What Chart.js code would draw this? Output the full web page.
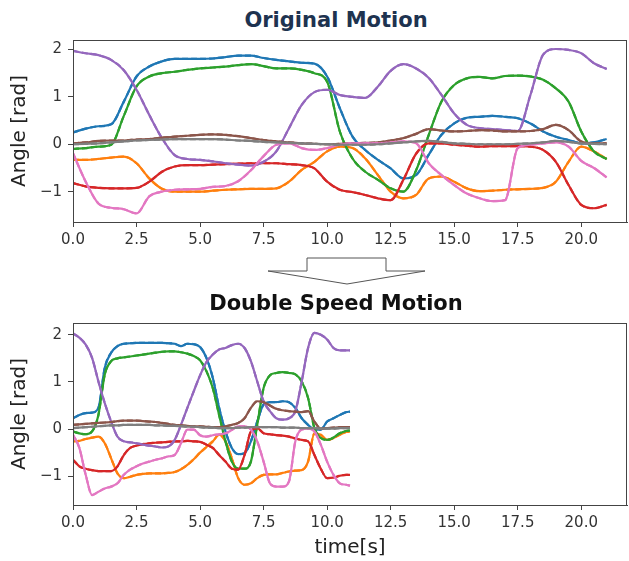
<!DOCTYPE html>
<html>
<head>
<meta charset="utf-8">
<script src="https://cdn.jsdelivr.net/npm/chart.js@4.4.0/dist/chart.umd.min.js"></script>
<style>
  body { margin: 0; background: #fff; width: 629px; height: 561px; position: relative; overflow: hidden; font-family: "DejaVu Sans", sans-serif; }
  .box { position: absolute; left: 0; width: 629px; }
  .title { position: absolute; left: 0; width: 672px; text-align: center; font-weight: bold; font-size: 21px; line-height: 24px; }
  svg { position: absolute; left: 0; top: 0; }
</style>
</head>
<body>
<div class="title" style="top:8px;color:#1e3350">Original Motion</div>
<div class="box" style="top:0;height:260px"><canvas id="origChart"></canvas></div>
<svg width="629" height="561">
  <polygon points="307,258 386,258 386,271 425,271 347,284 268,271 307,271" fill="#fff" stroke="#555" stroke-width="1"/>
</svg>
<div class="title" style="top:291px;color:#111">Double Speed Motion</div>
<div class="box" style="top:280px;height:281px"><canvas id="fastChart"></canvas></div>
<script>
// original motion, sampled every 0.5 s
const origTime = [0,0.5,1,1.5,2,2.5,3,3.5,4,4.5,5,5.5,6,6.5,7,7.5,8,8.5,9,9.5,10,10.5,11,11.5,12,12.5,13,13.5,14,14.5,15,15.5,16,16.5,17,17.5,18,18.5,19,19.5,20,20.5,21];
const origBlue = [0.25,0.33,0.38,0.42,0.9,1.43,1.64,1.75,1.8,1.8,1.8,1.81,1.84,1.87,1.87,1.82,1.78,1.75,1.72,1.7,1.43,0.76,0.16,-0.12,-0.33,-0.51,-0.72,-0.65,-0.22,0.2,0.44,0.56,0.58,0.6,0.58,0.55,0.44,0.27,0.16,0.09,0.02,0.04,0.11];
const origOrange = [-0.33,-0.33,-0.31,-0.28,-0.26,-0.4,-0.72,-0.94,-1.0,-1.0,-1.0,-0.98,-0.96,-0.95,-0.94,-0.94,-0.93,-0.79,-0.54,-0.37,-0.15,-0.05,-0.08,-0.3,-0.65,-1.0,-1.14,-1.07,-0.72,-0.68,-0.79,-0.93,-0.99,-0.98,-0.96,-0.95,-0.94,-0.92,-0.79,-0.37,-0.05,-0.15,-0.31];
const origGreen = [-0.1,-0.08,-0.05,-0.01,0.6,1.22,1.43,1.5,1.53,1.57,1.6,1.62,1.64,1.67,1.69,1.65,1.6,1.6,1.57,1.5,1.32,0.27,-0.3,-0.58,-0.75,-0.93,-1.0,-0.55,0.2,0.9,1.25,1.39,1.42,1.39,1.44,1.45,1.43,1.36,1.18,0.9,0.27,-0.15,-0.31];
const origRed = [-0.82,-0.89,-0.92,-0.93,-0.93,-0.92,-0.79,-0.58,-0.47,-0.44,-0.44,-0.43,-0.42,-0.41,-0.4,-0.4,-0.4,-0.42,-0.44,-0.51,-0.79,-0.96,-1.01,-1.07,-1.14,-1.18,-0.75,-0.2,0.02,0.02,-0.01,-0.03,-0.05,-0.04,-0.04,-0.04,-0.05,-0.12,-0.37,-0.86,-1.28,-1.35,-1.28];
const origPurple = [1.97,1.92,1.88,1.78,1.56,1.15,0.62,0.13,-0.23,-0.31,-0.33,-0.36,-0.4,-0.43,-0.45,-0.37,-0.15,0.34,0.83,1.1,1.15,1.04,1.0,0.98,1.22,1.55,1.69,1.6,1.4,1.04,0.65,0.41,0.34,0.32,0.3,0.28,1.04,1.89,2.01,1.99,1.92,1.71,1.59];
const origBrown = [0.02,0.04,0.07,0.08,0.08,0.1,0.11,0.14,0.16,0.18,0.2,0.21,0.2,0.17,0.13,0.09,0.06,0.04,0.02,0.01,0,0.01,0.02,0.03,0.04,0.08,0.13,0.22,0.32,0.29,0.27,0.28,0.3,0.29,0.27,0.27,0.28,0.32,0.41,0.3,0.06,0.02,0.02];
const origPink = [-0.19,-0.79,-1.25,-1.34,-1.37,-1.46,-1.1,-1.0,-0.96,-0.95,-0.94,-0.9,-0.88,-0.78,-0.55,-0.25,-0.01,0.02,-0.08,-0.12,-0.08,-0.01,0.02,0.02,0.02,0.04,0.06,0.02,-0.4,-0.65,-0.86,-1.04,-1.14,-1.2,-1.18,-0.08,-0.01,0.02,0.04,-0.05,-0.35,-0.5,-0.7];
const origGray = [0,0.01,0.02,0.04,0.06,0.08,0.09,0.1,0.11,0.11,0.11,0.11,0.1,0.08,0.07,0.05,0.04,0.03,0.02,0.01,0,-0.01,-0.01,-0.01,0,0.02,0.04,0.06,0.07,0.05,0.02,0.01,0,0,0,0.01,0.02,0.04,0.07,0.05,0.02,0.01,0];

// double speed motion, sampled every 0.25 s
const fastTime = [0,0.25,0.5,0.75,1,1.25,1.5,1.75,2,2.25,2.5,2.75,3,3.25,3.5,3.75,4,4.25,4.5,4.75,5,5.25,5.5,5.75,6,6.25,6.5,6.75,7,7.25,7.5,7.75,8,8.25,8.5,8.75,9,9.25,9.5,9.75,10,10.25,10.5,10.75,10.9];
const fastBlue = [0.23,0.3,0.34,0.35,0.45,1.3,1.62,1.76,1.81,1.82,1.83,1.83,1.83,1.83,1.83,1.82,1.81,1.76,1.81,1.8,1.74,1.51,1.09,0.45,-0.05,-0.4,-0.53,-0.51,-0.26,0.16,0.52,0.57,0.57,0.59,0.57,0.45,0.23,0.09,-0.01,-0.01,0.16,0.23,0.3,0.36,0.37];
const fastOrange = [-0.26,-0.25,-0.21,-0.18,-0.16,-0.3,-0.62,-0.94,-1.04,-1.01,-0.97,-0.95,-0.94,-0.94,-0.94,-0.93,-0.91,-0.85,-0.76,-0.64,-0.5,-0.38,-0.26,-0.12,-0.26,-0.62,-1.04,-1.18,-1.15,-1.04,-0.97,-0.96,-0.96,-0.93,-0.9,-0.88,-0.87,-0.69,-0.09,-0.12,-0.23,-0.19,-0.12,-0.06,-0.05];
const fastGreen = [-0.05,-0.09,-0.11,-0.05,0.3,1.16,1.44,1.5,1.52,1.54,1.56,1.58,1.6,1.62,1.64,1.65,1.65,1.63,1.6,1.55,1.46,1.23,0.87,0.3,-0.26,-0.69,-0.84,-0.84,-0.69,0.09,0.87,1.14,1.19,1.21,1.19,1.16,1.01,0.66,0.02,-0.19,-0.23,-0.18,-0.09,-0.04,-0.03];
const fastRed = [-0.65,-0.79,-0.84,-0.87,-0.89,-0.89,-0.89,-0.79,-0.55,-0.4,-0.35,-0.32,-0.3,-0.29,-0.28,-0.27,-0.26,-0.26,-0.25,-0.26,-0.27,-0.33,-0.4,-0.55,-0.69,-0.84,-0.86,-0.55,-0.05,0.02,-0.09,-0.11,-0.13,-0.14,-0.16,-0.2,-0.23,-0.26,-0.55,-0.84,-1.04,-1.03,-0.99,-0.97,-0.97];
const fastPurple = [2.03,1.94,1.79,1.51,1.01,0.55,0.16,-0.16,-0.26,-0.28,-0.3,-0.33,-0.35,-0.37,-0.39,-0.37,-0.23,0.09,0.45,0.8,1.14,1.42,1.58,1.69,1.72,1.78,1.81,1.72,1.44,1.01,0.59,0.38,0.23,0.2,0.23,0.38,1.01,1.72,2.04,2.0,1.9,1.72,1.67,1.67,1.67];
const fastBrown = [0.09,0.1,0.11,0.12,0.13,0.14,0.15,0.17,0.18,0.18,0.18,0.17,0.16,0.15,0.13,0.11,0.09,0.08,0.07,0.06,0.06,0.05,0.04,0.04,0.06,0.09,0.13,0.23,0.45,0.59,0.57,0.5,0.43,0.4,0.38,0.37,0.36,0.38,0.16,0.01,0.02,0.03,0.04,0.04,0.04];
const fastPink = [-0.12,-0.4,-0.97,-1.4,-1.33,-1.26,-1.22,-1.15,-0.97,-0.86,-0.79,-0.73,-0.69,-0.65,-0.62,-0.58,-0.55,-0.3,-0.01,-0.01,-0.13,-0.16,-0.13,-0.11,-0.09,-0.02,0.06,0.06,-0.01,-0.26,-0.69,-1.15,-1.22,-1.22,-1.11,-0.26,-0.01,0.01,-0.05,-0.33,-0.69,-0.97,-1.15,-1.18,-1.2];
const fastGray = [0.02,0.03,0.04,0.05,0.06,0.07,0.08,0.08,0.09,0.09,0.09,0.09,0.09,0.08,0.08,0.07,0.07,0.06,0.05,0.05,0.04,0.03,0.03,0.02,0.02,0.02,0.03,0.03,0.04,0.04,0.04,0.04,0.04,0.03,0.03,0.03,0.02,0.02,0.02,0.01,0.01,0.01,0.02,0.02,0.02];

const colors = ['#1f77b4', '#ff7f0e', '#2ca02c', '#d62728', '#9467bd', '#8c564b', '#e377c2', '#7f7f7f'];
const xTicks = [0, 2.5, 5, 7.5, 10, 12.5, 15, 17.5, 20];
const yTicks = [-1, 0, 1, 2];

function makeSets(time, series) {
  const sets = [];
  series.forEach((vals, i) => {
    const pts = vals.map((v, k) => ({ x: time[k], y: v }));
    // solid = reference, dashed = tracked motion
    sets.push({ data: pts, borderColor: colors[i], borderWidth: 2.2, order: -2 * i });
    sets.push({ data: pts, borderColor: colors[i], borderWidth: 2.2, borderDash: [6, 3], order: -2 * i - 1 });
  });
  return sets;
}

const frame = {
  id: 'frame',
  afterDatasetsDraw(chart) {
    const a = chart.chartArea, c = chart.ctx;
    c.save();
    c.strokeStyle = '#444';
    c.lineWidth = 1;
    c.strokeRect(Math.round(a.left) + 0.5, Math.round(a.top) + 0.5, Math.round(a.right - a.left) - 1, Math.round(a.bottom - a.top));
    c.restore();
  }
};

function makeOptions(yMin, yMax, padTop, xHeight, xTitle) {
  const tickFont = { family: 'DejaVu Sans', size: 15 };
  return {
    responsive: true,
    maintainAspectRatio: false,
    animation: false,
    layout: { padding: { top: padTop, right: 2, left: 0, bottom: 0 } },
    elements: { point: { radius: 0 }, line: { cubicInterpolationMode: 'monotone', fill: false } },
    plugins: { legend: { display: false }, tooltip: { enabled: false } },
    scales: {
      x: {
        type: 'linear', min: 0, max: 21.8,
        afterBuildTicks: s => { s.ticks = xTicks.map(v => ({ value: v })); },
        afterFit: s => { s.height = xHeight; },
        ticks: { font: tickFont, color: '#333', padding: 4, maxRotation: 0, autoSkip: false, callback: v => v.toFixed(1) },
        grid: { drawOnChartArea: false, tickLength: 5, color: '#444' },
        border: { color: '#444' },
        title: { display: !!xTitle, text: xTitle, font: { family: 'DejaVu Sans', size: 20 }, color: '#222', padding: { top: 0, bottom: 1 } }
      },
      y: {
        min: yMin, max: yMax,
        afterBuildTicks: s => { s.ticks = yTicks.map(v => ({ value: v })); },
        afterFit: s => { s.width = 73; },
        ticks: { font: tickFont, color: '#333', padding: 6, callback: v => v < 0 ? '\u2212' + Math.abs(v) : String(v) },
        grid: { drawOnChartArea: false, tickLength: 5, color: '#444' },
        border: { color: '#444' },
        title: { display: true, text: 'Angle [rad]', font: { family: 'DejaVu Sans', size: 20 }, color: '#222', padding: { top: 8, bottom: 0 } }
      }
    }
  };
}

new Chart(document.getElementById('origChart'), {
  type: 'line',
  data: { datasets: makeSets(origTime, [origBlue, origOrange, origGreen, origRed, origPurple, origBrown, origPink, origGray]) },
  options: makeOptions(-1.64, 2.2, 40, 38, ''),
  plugins: [frame]
});

new Chart(document.getElementById('fastChart'), {
  type: 'line',
  data: { datasets: makeSets(fastTime, [fastBlue, fastOrange, fastGreen, fastRed, fastPurple, fastBrown, fastPink, fastGray]) },
  options: makeOptions(-1.61, 2.25, 43, 56, 'time[s]'),
  plugins: [frame]
});
</script>
</body>
</html>
